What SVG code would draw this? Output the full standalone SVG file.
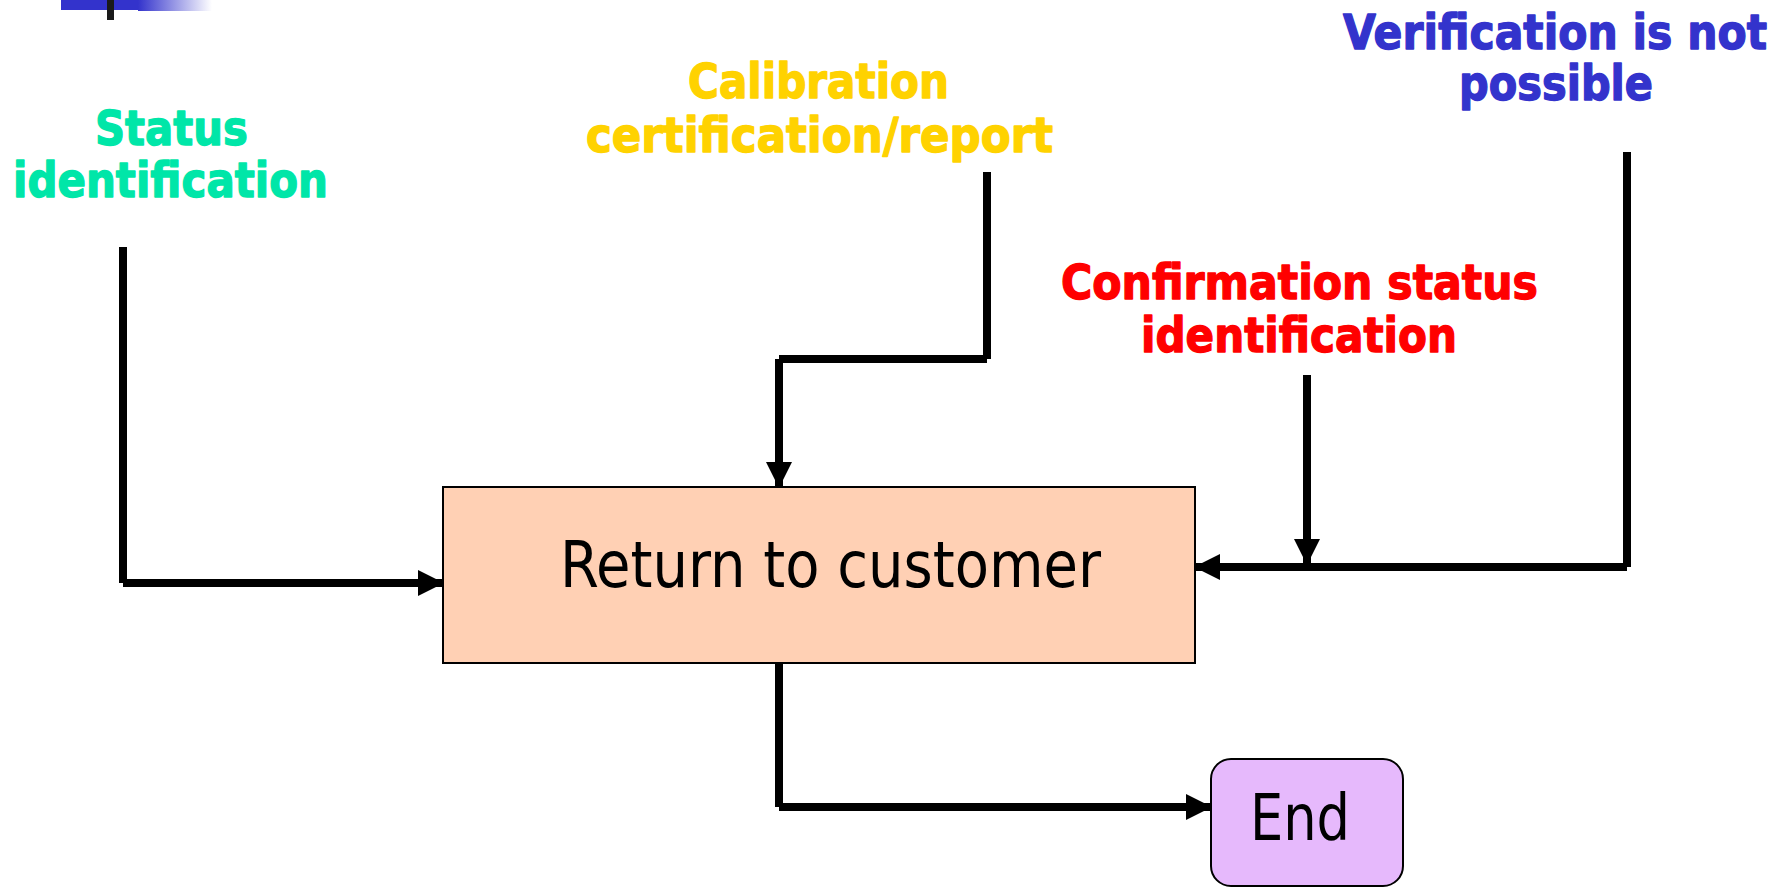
<svg xmlns="http://www.w3.org/2000/svg" width="1790" height="887" viewBox="0 0 1790 887">
  <defs>
    <linearGradient id="barFade" x1="0" y1="0" x2="1" y2="0">
      <stop offset="0" stop-color="#3333CC"/>
      <stop offset="1" stop-color="#3333CC" stop-opacity="0"/>
    </linearGradient>
    <marker id="arrow" viewBox="0 0 26 26" refX="25" refY="13" markerWidth="26" markerHeight="26" markerUnits="userSpaceOnUse" orient="auto">
      <path d="M0,0 L26,13 L0,26 Z" fill="#000"/>
    </marker>
    <style>
      .label { font-family: "DejaVu Sans", "Noto Sans", sans-serif; font-weight: bold; font-size: 48px; stroke-width: 1.4px; stroke-linejoin: round; }
      .node-text { font-family: "DejaVu Sans Condensed", "DejaVu Sans", sans-serif; font-size: 64px; fill: #000; }
      .wire { stroke: #000; stroke-width: 8; fill: none; stroke-linecap: butt; }
      .green { fill: #00E6A8; stroke: #00E6A8; }
      .yellow { fill: #FFD200; stroke: #FFD200; }
      .red { fill: #FF0000; stroke: #FF0000; }
      .blue { fill: #3333CC; stroke: #3333CC; }
    </style>
  </defs>

  <rect width="1790" height="887" fill="#fff"/>

  <!-- header ornament -->
  <g id="header-bar">
    <rect x="61" y="0" width="77" height="10" fill="#3333CC"/>
    <rect x="138" y="0" width="74" height="11" fill="url(#barFade)"/>
    <rect x="107" y="0" width="7" height="20" fill="#1a1a1a"/>
  </g>

  <!-- input labels -->
  <g id="label-status">
    <text class="label green" x="95" y="145" textLength="153" lengthAdjust="spacingAndGlyphs">Status</text>
    <text class="label green" x="13" y="197" textLength="315" lengthAdjust="spacingAndGlyphs">identification</text>
  </g>
  <g id="label-calibration">
    <text class="label yellow" x="688" y="98" textLength="261" lengthAdjust="spacingAndGlyphs">Calibration</text>
    <text class="label yellow" x="586" y="152" textLength="467" lengthAdjust="spacingAndGlyphs">certification/report</text>
  </g>
  <g id="label-confirmation">
    <text class="label red" x="1061" y="299" textLength="477" lengthAdjust="spacingAndGlyphs">Confirmation status</text>
    <text class="label red" x="1141" y="352" textLength="316" lengthAdjust="spacingAndGlyphs">identification</text>
  </g>
  <g id="label-verification">
    <text class="label blue" x="1343" y="49" textLength="424" lengthAdjust="spacingAndGlyphs">Verification is not</text>
    <text class="label blue" x="1459" y="100" textLength="194" lengthAdjust="spacingAndGlyphs">possible</text>
  </g>

  <!-- process nodes -->
  <g id="node-return">
    <rect x="443" y="487" width="752" height="176" fill="#FFD0B4" stroke="#000" stroke-width="2"/>
    <text class="node-text" x="560" y="587" textLength="541" lengthAdjust="spacingAndGlyphs">Return to customer</text>
  </g>
  <g id="node-end">
    <rect x="1211" y="759" width="192" height="127" rx="20" ry="20" fill="#E6B9FC" stroke="#000" stroke-width="2"/>
    <text class="node-text" x="1250" y="840" textLength="100" lengthAdjust="spacingAndGlyphs">End</text>
  </g>

  <!-- connectors -->
  <g id="connectors">
    <!-- status identification into left side -->
    <line class="wire" x1="123" y1="247" x2="123" y2="583"/>
    <line class="wire" x1="123" y1="583" x2="443" y2="583" marker-end="url(#arrow)"/>
    <!-- calibration certificate into top -->
    <line class="wire" x1="987" y1="172" x2="987" y2="359"/>
    <line class="wire" x1="987" y1="359" x2="779" y2="359"/>
    <line class="wire" x1="779" y1="359" x2="779" y2="487" marker-end="url(#arrow)"/>
    <!-- confirmation status drops onto the right feed -->
    <line class="wire" x1="1307" y1="375" x2="1307" y2="564" marker-end="url(#arrow)"/>
    <!-- verification not possible into right side -->
    <line class="wire" x1="1627" y1="152" x2="1627" y2="567"/>
    <line class="wire" x1="1627" y1="567" x2="1195" y2="567" marker-end="url(#arrow)"/>
    <!-- return to end -->
    <line class="wire" x1="779" y1="663" x2="779" y2="807"/>
    <line class="wire" x1="779" y1="807" x2="1211" y2="807" marker-end="url(#arrow)"/>
  </g>
</svg>
